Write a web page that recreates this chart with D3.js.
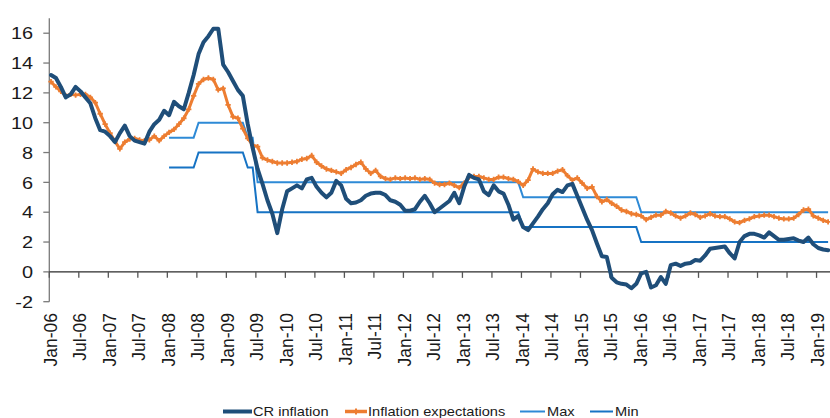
<!DOCTYPE html>
<html><head><meta charset="utf-8">
<script src="https://cdn.jsdelivr.net/npm/d3@7"></script>
<style>
html,body{margin:0;padding:0;background:#fff;}
svg{display:block;font-family:"Liberation Sans",Arial,sans-serif;}
</style></head>
<body>
<svg id="chart" width="830" height="418"></svg>
<script>
// Monthly data, Jan-06 .. Mar-19
const crInflation = [
13.2,13.0,12.4,11.7,11.9,12.4,12.1,11.7,11.3,10.3,9.5,9.4,
9.1,8.7,9.3,9.8,9.1,8.8,8.7,8.6,9.4,9.9,10.2,10.8,
10.5,11.4,11.1,10.9,12.0,13.2,14.6,15.4,15.8,16.3,16.3,13.9,
13.4,12.8,12.2,11.8,9.9,8.3,6.9,5.9,4.8,3.9,2.6,4.2,
5.4,5.6,5.8,5.6,6.2,6.3,5.7,5.3,5.0,5.3,6.1,5.8,
4.9,4.6,4.65,4.8,5.1,5.25,5.3,5.3,5.15,4.8,4.7,4.5,
4.1,4.1,4.2,4.7,5.1,4.6,4.0,4.25,4.5,4.75,5.3,4.6,
5.7,6.5,6.3,6.2,5.4,5.15,5.8,5.4,5.25,4.5,3.5,3.75,
3.0,2.8,3.25,3.7,4.2,4.6,5.2,5.5,5.35,5.8,5.9,5.1,
4.3,3.5,2.8,1.9,1.05,1.0,-0.4,-0.7,-0.8,-0.85,-1.1,-0.8,
-0.1,0.0,-1.05,-0.9,-0.35,-0.8,0.45,0.55,0.4,0.55,0.6,0.8,
0.75,1.1,1.55,1.6,1.65,1.7,1.25,0.9,2.0,2.4,2.55,2.55,
2.45,2.3,2.65,2.4,2.15,2.15,2.2,2.25,2.1,2.0,2.3,1.85,
1.6,1.5,1.45
];
const inflationExpectations = [
12.75,12.4,12.1,11.8,11.9,11.85,11.9,11.9,11.7,11.35,10.6,9.9,
9.3,8.75,8.25,8.7,8.9,8.95,8.85,8.8,8.85,9.1,8.8,9.1,
9.35,9.55,9.9,10.3,10.9,11.8,12.6,12.9,13.0,12.9,12.2,12.3,
11.2,10.4,10.3,9.6,8.95,8.5,8.4,7.65,7.5,7.4,7.3,7.3,
7.3,7.35,7.4,7.55,7.6,7.8,7.35,7.1,6.9,6.8,6.7,6.6,
6.85,7.0,7.2,7.35,6.9,6.6,6.8,6.4,6.25,6.2,6.3,6.25,
6.3,6.25,6.3,6.2,6.25,6.2,5.95,5.85,5.85,5.95,5.8,5.65,
5.95,6.35,6.4,6.4,6.3,6.2,6.2,6.35,6.35,6.25,6.2,6.05,
5.8,6.15,6.9,6.7,6.6,6.6,6.6,6.75,6.85,6.45,6.15,6.3,
5.95,5.6,5.7,5.05,4.7,4.85,4.6,4.4,4.15,4.05,3.9,3.85,
3.75,3.5,3.65,3.8,3.8,4.05,3.95,3.75,3.6,3.75,3.95,3.85,
3.65,3.75,3.9,3.75,3.7,3.7,3.55,3.35,3.3,3.45,3.55,3.7,
3.75,3.8,3.8,3.7,3.6,3.55,3.55,3.6,3.85,4.15,4.2,3.75,
3.6,3.45,3.35
];
// Target band (starts Jan-08, month index 24)
const bandStart = 24;
const maxBand = [
9,9,9,9,9,9,
10,10,10,10,10,10,10,10,10,10,
9,9,
6,6,6,6,6,6, 6,6,6,6,6,6, 6,6,6,6,6,6,
6,6,6,6,6,6, 6,6,6,6,6,6, 6,6,6,6,6,6,
6,6,6,6,6,6, 6,6,6,6,6,6, 6,6,6,6,6,6,
5,5,5,5,5,5, 5,5,5,5,5,5, 5,5,5,5,5,5, 5,5,5,5,5,5,
4,4,4,4,4,4, 4,4,4,4,4,4, 4,4,4,4,4,4,
4,4,4,4,4,4, 4,4,4,4,4,4, 4,4,4,4,4,4, 4,4,4
];
const minBand = [
7,7,7,7,7,7,
8,8,8,8,8,8,8,8,8,8,
7,7,
4,4,4,4,4,4, 4,4,4,4,4,4, 4,4,4,4,4,4,
4,4,4,4,4,4, 4,4,4,4,4,4, 4,4,4,4,4,4,
4,4,4,4,4,4, 4,4,4,4,4,4, 4,4,4,4,4,4,
3,3,3,3,3,3, 3,3,3,3,3,3, 3,3,3,3,3,3, 3,3,3,3,3,3,
2,2,2,2,2,2, 2,2,2,2,2,2, 2,2,2,2,2,2,
2,2,2,2,2,2, 2,2,2,2,2,2, 2,2,2,2,2,2, 2,2,2
];
const yTicks = [-2,0,2,4,6,8,10,12,14,16];
const xTickLabels = ["Jan-06","Jul-06","Jan-07","Jul-07","Jan-08","Jul-08","Jan-09","Jul-09",
"Jan-10","Jul-10","Jan-11","Jul-11","Jan-12","Jul-12","Jan-13","Jul-13","Jan-14","Jul-14",
"Jan-15","Jul-15","Jan-16","Jul-16","Jan-17","Jul-17","Jan-18","Jul-18","Jan-19"];
const seriesNames = ["CR inflation","Inflation expectations","Max","Min"];

const colors = {cr:"#1F4E79", exp:"#ED7D31", max:"#2E8AD6", min:"#1673C4"};
const svg = d3.select("#chart");
const x = d3.scaleLinear().domain([0,159]).range([49.3, 831.3]);
const y = d3.scaleLinear().domain([-2,17]).range([301.7, 18.3]);
const off = 0.35; // points sit slightly right of ticks
const SX = 1.17;

// Y axis
svg.append("line").attr("x1",49.3).attr("x2",49.3).attr("y1",y(17)).attr("y2",y(-2))
  .attr("stroke","#7a7a7a").attr("stroke-width",1.3);
yTicks.forEach(v=>{
  svg.append("line").attr("x1",43.3).attr("x2",49.3).attr("y1",y(v)).attr("y2",y(v))
    .attr("stroke","#7a7a7a").attr("stroke-width",1.3);
  svg.append("text").attr("transform",`translate(33,${y(v)}) scale(${SX},1)`)
    .attr("text-anchor","end").attr("dy","0.36em").attr("font-size",17).attr("fill","#1a1a1a").text(v);
});
// X axis at 0
svg.append("line").attr("x1",49.3).attr("x2",830).attr("y1",y(0)).attr("y2",y(0))
  .attr("stroke","#2b2b2b").attr("stroke-width",1.3);
xTickLabels.forEach((lab,i)=>{
  const m = i*6;
  svg.append("line").attr("x1",x(m)).attr("x2",x(m)).attr("y1",y(0)).attr("y2",y(0)+6)
    .attr("stroke","#555").attr("stroke-width",1.3);
  svg.append("text").attr("transform",`translate(${x(m)+1},313) rotate(-90)`)
    .attr("text-anchor","end").attr("dy","0.36em").attr("font-size",17.5).attr("fill","#1a1a1a").text(lab);
});

function pts(arr, start){ return arr.map((v,i)=>[x(start+i+off), y(v)]); }
const line = d3.line();

// Bands
svg.append("path").attr("d",line(pts(minBand,bandStart))).attr("fill","none")
  .attr("stroke",colors.min).attr("stroke-width",2);
svg.append("path").attr("d",line(pts(maxBand,bandStart))).attr("fill","none")
  .attr("stroke",colors.max).attr("stroke-width",2);

// Expectations
const expPts = pts(inflationExpectations,0);
svg.append("path").attr("d",line(expPts)).attr("fill","none")
  .attr("stroke",colors.exp).attr("stroke-width",3).attr("stroke-linejoin","round");
svg.append("g").selectAll("path").data(expPts).join("path")
  .attr("transform",d=>`translate(${d[0]},${d[1]})`)
  .attr("d",d3.symbol(d3.symbolCross,16)).attr("fill",colors.exp);

// CR inflation
svg.append("path").attr("d",line(pts(crInflation,0))).attr("fill","none")
  .attr("stroke",colors.cr).attr("stroke-width",4).attr("stroke-linejoin","round").attr("stroke-linecap","round");

// Legend
const ly = 411.5;
const leg = [
  {name:seriesNames[0], x1:223, x2:252, c:colors.cr, w:4, tx:253},
  {name:seriesNames[1], x1:345, x2:367, c:colors.exp, w:3.5, tx:368, mk:true},
  {name:seriesNames[2], x1:520, x2:545, c:colors.max, w:2, tx:547},
  {name:seriesNames[3], x1:590, x2:613, c:colors.min, w:2, tx:615}
];
leg.forEach(d=>{
  svg.append("line").attr("x1",d.x1).attr("x2",d.x2).attr("y1",ly).attr("y2",ly)
    .attr("stroke",d.c).attr("stroke-width",d.w);
  if(d.mk) svg.append("path").attr("transform",`translate(${(d.x1+d.x2)/2},${ly})`)
    .attr("d",d3.symbol(d3.symbolCross,20)).attr("fill",d.c);
  svg.append("text").attr("transform",`translate(${d.tx},${ly}) scale(${SX},1)`)
    .attr("dy","0.36em").attr("font-size",12.5).attr("fill","#1a1a1a").text(d.name);
});
</script>
</body></html>
